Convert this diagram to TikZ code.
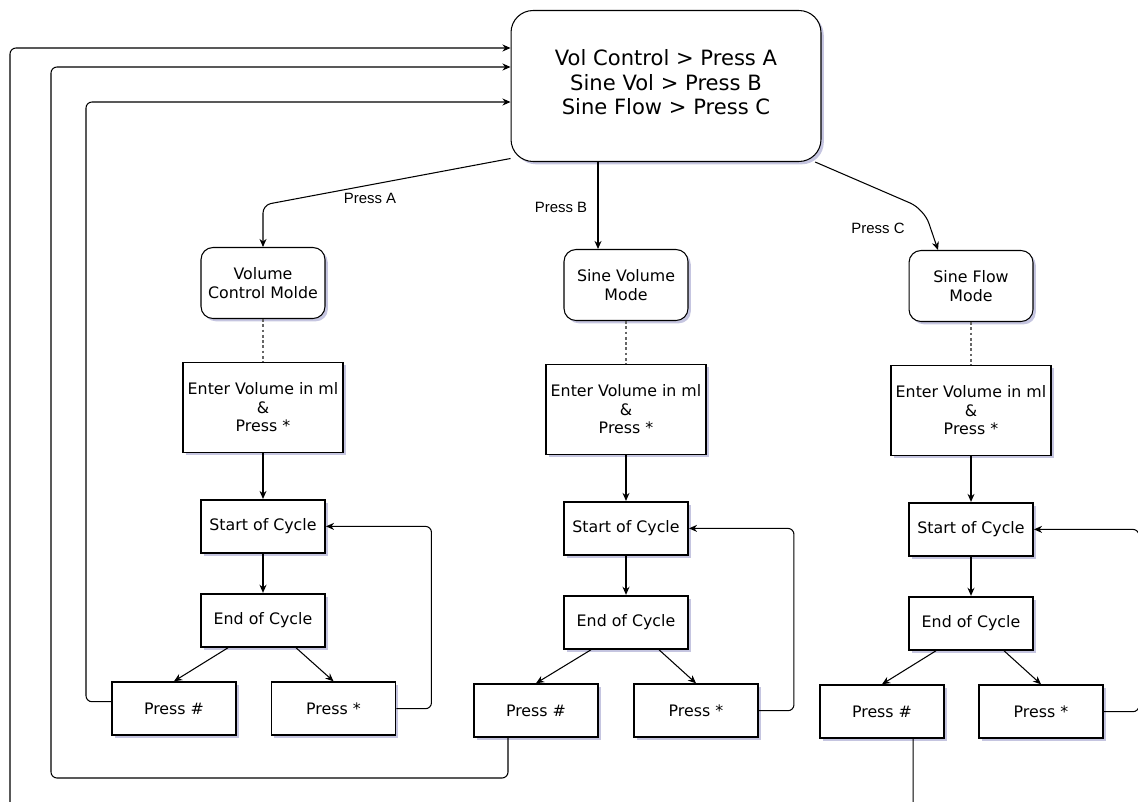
\documentclass[tikz,border=0pt]{standalone}
\usepackage{fontspec}
\setmainfont{DejaVu Sans}
\newfontfamily\labelfont{Liberation Sans}
\usetikzlibrary{positioning, calc, arrows.meta, shadows}

\tikzset{
	boxshadow/.style={drop shadow={shadow xshift=1.6pt, shadow yshift=-1.6pt, fill=gray!70!blue, opacity=0.35}},
	menubox/.style={draw, rounded corners=0.44cm, line width=0.6pt, fill=white, boxshadow, minimum width=6.2cm, minimum height=3.02cm, align=center, font=\fontsize{12}{13.9}\selectfont},
	modebox/.style={draw, rounded corners=0.24cm, line width=0.6pt, fill=white, boxshadow, minimum width=2.48cm, minimum height=1.42cm, align=center, font=\fontsize{9}{10.5}\selectfont},
	volbox/.style={draw, line width=1.1pt, fill=white, boxshadow, minimum width=3.2cm, minimum height=1.8cm, inner sep=1pt, align=center, font=\fontsize{9}{10.5}\selectfont},
	stepbox/.style={draw, line width=1.1pt, fill=white, boxshadow, minimum width=2.48cm, minimum height=1.06cm, font=\fontsize{9}{10.5}\selectfont},
	arr/.style={-{Stealth[length=4.6pt,width=4pt]}, line width=0.6pt},
	dotline/.style={draw=gray!80!black, line width=0.6pt, dash pattern=on 1.6pt off 1.4pt},
	keylabel/.style={fill=white, inner sep=1pt, font=\labelfont\fontsize{8.5}{10}\selectfont}
}

\begin{document}
\begin{tikzpicture}[x=0.02cm, y=-0.02cm]
	\useasboundingbox (0,0) rectangle (1138,801);
	\clip (0,0) rectangle (1138,801);
	
	% labels first, lines go over them
	\node[keylabel] (keyA) at (370,198) {Press A};
	\node[keylabel] (keyB) at (561,207) {Press B};
	\node[keylabel] (keyC) at (878,228) {Press C};
	
	\node[menubox] (main) at (666,86) {Vol Control > Press A\\Sine Vol > Press B\\Sine Flow > Press C\rule[-4.5pt]{0pt}{0pt}};
	
	% volume control column
	\node[modebox] (amode) at (263,283) {Volume\\Control Molde};
	\node[volbox, below=0.85cm of amode] (avol) {Enter Volume in ml\\\&\\Press *};
	\node[stepbox, below=0.91cm of avol] (astart) {Start of Cycle};
	\node[stepbox, below=0.78cm of astart] (aend) {End of Cycle};
	\node[stepbox, below=0.67cm of aend, xshift=-1.78cm] (ahash) {Press \#};
	\node[stepbox, below=0.67cm of aend, xshift=1.41cm] (astar) {Press *};
	
	% sine volume column
	\node[modebox] (bmode) at (626,285) {Sine Volume\\Mode};
	\node[volbox, below=0.85cm of bmode] (bvol) {Enter Volume in ml\\\&\\Press *};
	\node[stepbox, below=0.91cm of bvol] (bstart) {Start of Cycle};
	\node[stepbox, below=0.78cm of bstart] (bend) {End of Cycle};
	\node[stepbox, below=0.67cm of bend, xshift=-1.8cm] (bhash) {Press \#};
	\node[stepbox, below=0.67cm of bend, xshift=1.4cm] (bstar) {Press *};
	
	% sine flow column
	\node[modebox] (cmode) at (971,286) {Sine Flow\\Mode};
	\node[volbox, below=0.85cm of cmode] (cvol) {Enter Volume in ml\\\&\\Press *};
	\node[stepbox, below=0.91cm of cvol] (cstart) {Start of Cycle};
	\node[stepbox, below=0.78cm of cstart] (cend) {End of Cycle};
	\node[stepbox, below=0.67cm of cend, xshift=-1.78cm] (chash) {Press \#};
	\node[stepbox, below=0.67cm of cend, xshift=1.4cm] (cstar) {Press *};
	
	% menu choices
	\draw[arr, rounded corners=0.16cm] (main.205) -- (amode.north |- 0,205) -- (amode.north);
	\draw[arr] (main.south -| 598,0) -- (bmode.north -| 598,0);
	\draw[arr, rounded corners=0.3cm] (main.333) -- (924,209) -- (cmode.north -| 938,0);
	
	% columns
	\draw[dotline] (amode.south) -- (avol.north);
	\draw[dotline] (bmode.south) -- (bvol.north);
	\draw[dotline] (cmode.south) -- (cvol.north);
	\draw[arr] (avol) -- (astart);
	\draw[arr] (bvol) -- (bstart);
	\draw[arr] (cvol) -- (cstart);
	\draw[arr] (astart) -- (aend);
	\draw[arr] (bstart) -- (bend);
	\draw[arr] (cstart) -- (cend);
	\draw[arr] ($(aend.south)+(-35,0)$) -- (ahash.north);
	\draw[arr] ($(aend.south)+(33,0)$) -- (astar.north);
	\draw[arr] ($(bend.south)+(-35,0)$) -- (bhash.north);
	\draw[arr] ($(bend.south)+(33,0)$) -- (bstar.north);
	\draw[arr] ($(cend.south)+(-35,0)$) -- (chash.north);
	\draw[arr] ($(cend.south)+(33,0)$) -- (cstar.north);
	
	% press * repeats the cycle
	\draw[arr, rounded corners=0.12cm] (astar.east) -- ++(35,0) |- (astart.east);
	\draw[arr, rounded corners=0.12cm] (bstar.east) -- ++(35,0) |- (bstart.east);
	\draw[arr, rounded corners=0.12cm] (cstar.east) -- ++(35,0) |- (cstart.east);
	
	% press # back to the menu
	\draw[arr, rounded corners=0.12cm] ($(ahash.west)+(0,-7)$) -| (86,102) -- (main.west |- 0,102);
	\draw[arr, rounded corners=0.12cm] ($(bhash.south)+(-28,0)$) |- (51,778) |- (main.west |- 0,67);
	\draw[arr, rounded corners=0.12cm] ($(chash.south)+(31,0)$) |- (10,830) |- (main.west |- 0,48);
\end{tikzpicture}
\end{document}
